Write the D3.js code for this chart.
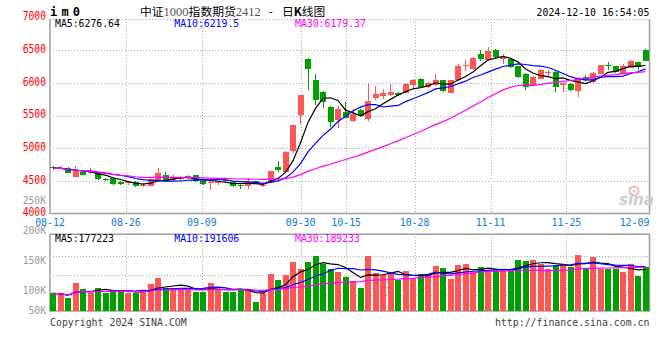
<!DOCTYPE html>
<html><head><meta charset="utf-8">
<script src="https://cdn.jsdelivr.net/npm/d3@7"></script>
<style>body{margin:0;background:#fff}svg{display:block}</style>
</head><body>
<svg id="c" width="660" height="360"></svg>
<script>
// ---------- DATA ----------
const dates = [
 "08-12","08-13","08-14","08-15","08-16","08-19","08-20","08-21","08-22","08-23",
 "08-26","08-27","08-28","08-29","08-30","09-02","09-03","09-04","09-05","09-06",
 "09-09","09-10","09-11","09-12","09-13","09-18","09-19","09-20","09-23","09-24",
 "09-25","09-26","09-27","09-30","10-08","10-09","10-10","10-11","10-14","10-15",
 "10-16","10-17","10-18","10-21","10-22","10-23","10-24","10-25","10-28","10-29",
 "10-30","10-31","11-01","11-04","11-05","11-06","11-07","11-08","11-11","11-12",
 "11-13","11-14","11-15","11-18","11-19","11-20","11-21","11-22","11-25","11-26",
 "11-27","11-28","11-29","12-02","12-03","12-04","12-05","12-06","12-09","12-10"];
const open = [
 4712,4690,4700,4562,4640,4615,4613,4532,4537,4486,
 4462,4486,4425,4425,4520,4588,4511,4525,4537,4588,
 4500,4460,4470,4510,4486,4440,4420,4500,4425,4486,
 4715,4639,4959,5504,6369,6038,5860,5631,5438,5555,
 5412,5590,5443,5773,5804,5809,5845,5845,5962,6064,
 5936,5962,6038,5850,6038,6255,6206,6435,6344,6496,
 6369,6369,6252,6140,5962,6064,6160,6165,5962,5987,
 5875,6089,6013,6140,6272,6252,6140,6232,6318,6496];
const high = [
 4720,4722,4706,4725,4652,4690,4622,4548,4540,4492,
 4500,4490,4470,4560,4700,4635,4585,4575,4585,4592,
 4505,4490,4495,4540,4490,4445,4540,4505,4450,4655,
 4807,4950,5360,5815,6375,6130,5870,5646,5642,5707,
 5606,5600,5987,5946,5911,5987,5860,6000,6064,6079,
 6013,6140,6050,6045,6293,6344,6390,6496,6547,6522,
 6435,6380,6260,6150,6100,6216,6201,6180,6005,5995,
 6089,6115,6160,6275,6318,6262,6283,6354,6325,6522];
const low = [
 4668,4675,4618,4558,4583,4608,4508,4502,4440,4430,
 4440,4410,4410,4420,4515,4495,4490,4505,4530,4480,
 4440,4360,4440,4480,4410,4370,4370,4450,4400,4480,
 4639,4630,4929,5366,5896,5667,5621,5326,5316,5455,
 5405,5480,5412,5743,5758,5800,5800,5840,5921,5930,
 5925,5955,5860,5845,6030,6181,6200,6333,6340,6369,
 6293,6227,6074,5896,5955,6060,6099,5860,5860,5875,
 5784,6028,6005,6130,6191,6150,6130,6225,6201,6330];
const close = [
 4690,4700,4624,4649,4590,4640,4532,4522,4450,4456,
 4478,4420,4440,4527,4623,4500,4537,4540,4570,4500,
 4445,4475,4480,4492,4420,4430,4486,4455,4435,4649,
 4664,4944,5351,5809,6206,5733,5707,5402,5606,5463,
 5519,5488,5718,5824,5845,5860,5814,5987,6038,5936,
 5997,6048,5875,6038,6252,6270,6384,6359,6486,6394,
 6394,6242,6089,5936,6089,6191,6170,5936,5997,5896,
 6079,6038,6150,6267,6262,6160,6252,6340,6250,6333];
const volume = [
 75800,71500,55600,119800,94200,75800,98400,75800,89900,89900,
 75800,75800,82600,115600,142500,97200,97200,99700,94200,82600,
 82600,118600,89900,82600,82600,94200,94200,38500,75800,158400,
 132700,154100,209700,181000,209700,235400,199900,181000,166900,145500,
 128400,96300,235400,161400,154100,161400,132700,171200,140000,158400,
 154100,192600,182800,137000,196900,201200,164800,187000,165600,175500,
 179800,178500,218300,215300,218300,201200,181000,196900,201200,188300,
 239700,184000,231100,179800,179800,179800,168200,201200,151100,187000];
const xTickLabels = ["08-12","08-26","09-09","09-30","10-15","10-28","11-11","11-25","12-09"];
const priceTicks = [4000,4500,5000,5500,6000,6500,7000];
const priceGrid = [4500,5000,5500,6000,6500];
const volTicks = [250000,200000,150000,100000,50000];
const volTickLabels = ["250K","200K","150K","100K","50K"];
const maPeriods = [5,10,30];
const maColors = ["#000000","#0000ff","#ff00ff"];
const maLabelsPrice = ["MA5:6276.64","MA10:6219.5","MA30:6179.37"];
const maLabelsVol = ["MA5:177223","MA10:191606","MA30:189233"];
const titleCode = "i m 0";
const timeStamp = "2024-12-10 16:54:05";

// ---------- LAYOUT ----------
const L = 50, R = 649.5, mainTop = 19, mainBot = 213.5, volTop = 234.3, volBot = 311;
const volGridY = [255.7, 275.3, 295.3];
const UP = "#ff5555", DN = "#00a000";
const mono = "DejaVu Sans Mono, monospace";

const svg = d3.select("#c");
const xb = d3.scaleBand().domain(dates).range([50, 650]);
const xp = d3.scalePoint().domain(dates).range([50, 650]);
const y = d3.scaleLinear().domain([4000, 7000]).range([213.5, 17.5]);
const vy = d3.scaleLinear().domain([0, 328000]).range([volBot, volTop]);
const vLab = d3.scaleLinear().domain([50000, 100000, 250000]).range([311, 290.7, 200.7]);

const cx = d => Math.floor(xb(d) + 3) + 0.5;
const bx = d => Math.round(xb(d));

function ma(arr, n) {
  return arr.map((_, i) => d3.mean(arr.slice(Math.max(0, i - n + 1), i + 1)));
}

// ---------- GRID ----------
const g = svg.append("g").attr("stroke", "#aaa").attr("stroke-dasharray", "1,2").attr("shape-rendering", "crispEdges");
priceGrid.forEach(v => g.append("line").attr("x1", L).attr("x2", R).attr("y1", Math.round(y(v)) + 0.5).attr("y2", Math.round(y(v)) + 0.5));
volGridY.forEach(v => g.append("line").attr("x1", L).attr("x2", R).attr("y1", Math.round(v) + 0.5).attr("y2", Math.round(v) + 0.5));
xTickLabels.slice(1, -1).forEach(d => {
  const xx = Math.round(xp(d)) + 0.5;
  g.append("line").attr("x1", xx).attr("x2", xx).attr("y1", mainTop).attr("y2", mainBot);
  g.append("line").attr("x1", xx).attr("x2", xx).attr("y1", volTop).attr("y2", volBot);
});
// top border dotted
g.append("line").attr("x1", L).attr("x2", R).attr("y1", mainTop + 0.5).attr("y2", mainTop + 0.5);

// frame solid
const f = svg.append("g").attr("stroke", "#a0a0a0").attr("stroke-width", 1.5).attr("fill", "none");
f.append("path").attr("d", `M${L},${mainTop}V${mainBot}H${R}V${mainTop}`);
f.append("path").attr("d", `M${L},${volTop}V${volBot}H${R}V${volTop}Z`);

// ---------- WATERMARK ----------
const wm = svg.append("g");
wm.append("circle").attr("cx", 634).attr("cy", 191).attr("r", 4.5).attr("fill", "none").attr("stroke", "#f3b6b6").attr("stroke-width", 2);
wm.append("circle").attr("cx", 634).attr("cy", 191).attr("r", 1.5).attr("fill", "#f3b6b6");
wm.append("text").attr("x", 619).attr("y", 205).attr("font-family", "DejaVu Sans, sans-serif").attr("font-style", "italic").attr("font-weight", "bold").attr("font-size", 15).attr("fill", "#cccccc").text("sina");

// ---------- CANDLES ----------
const cg = svg.append("g").attr("shape-rendering", "crispEdges");
dates.forEach((d, i) => {
  const col = close[i] >= open[i] ? UP : DN;
  cg.append("line").attr("x1", cx(d)).attr("x2", cx(d)).attr("y1", y(high[i])).attr("y2", y(low[i])).attr("stroke", col);
  const top = y(Math.max(open[i], close[i])), bot = y(Math.min(open[i], close[i]));
  cg.append("rect").attr("x", bx(d)).attr("width", 6).attr("y", top).attr("height", Math.max(1, bot - top)).attr("fill", col);
});

// ---------- VOLUME ----------
dates.forEach((d, i) => {
  const col = close[i] >= open[i] ? UP : DN;
  cg.append("rect").attr("x", bx(d)).attr("width", 6).attr("y", vy(volume[i])).attr("height", volBot - vy(volume[i])).attr("fill", col);
});

// ---------- MA LINES ----------
maPeriods.forEach((n, k) => {
  const m = ma(close, n);
  svg.append("path").datum(m).attr("fill", "none").attr("stroke", maColors[k]).attr("stroke-width", 1.2)
    .attr("d", d3.line().x((v, i) => xb(dates[i]) + 3).y(v => y(v)));
  const mv = ma(volume, n);
  svg.append("path").datum(mv).attr("fill", "none").attr("stroke", maColors[k]).attr("stroke-width", 1.2)
    .attr("d", d3.line().x((v, i) => xb(dates[i]) + 3).y(v => vy(v)));
});

// ---------- AXES TEXT ----------
priceTicks.forEach(v => {
  const s = String(v);
  svg.append("text").attr("x", 46).attr("y", y(v) + 2.8).attr("text-anchor", "end")
    .attr("font-family", mono).attr("font-size", 12.8).attr("fill", "#ff0000")
    .attr("textLength", 5.83 * s.length).attr("lengthAdjust", "spacingAndGlyphs").text(s);
});
volTicks.forEach((v, i) => {
  svg.append("text").attr("x", 46).attr("y", vLab(v) + 3.3).attr("text-anchor", "end")
    .attr("font-family", mono).attr("font-size", 9.7).attr("fill", "#999999").text(volTickLabels[i]);
});
xTickLabels.forEach(d => {
  let xx = xp(d);
  const w = 30;
  if (xx + w / 2 > R) xx = R - w / 2;
  svg.append("text").attr("x", xx).attr("y", 225.7).attr("text-anchor", "middle")
    .attr("font-family", mono).attr("font-size", 9.9).attr("fill", "#0b7dd6").text(d);
});

// ---------- LEGEND / TITLE ----------
const maX = [55, 174.3, 295];
maLabelsPrice.forEach((t, k) => svg.append("text").attr("x", maX[k]).attr("y", 27.3)
  .attr("font-family", mono).attr("font-size", 9.8).attr("fill", maColors[k]).text(t));
maLabelsVol.forEach((t, k) => svg.append("text").attr("x", maX[k]).attr("y", 241.7)
  .attr("font-family", mono).attr("font-size", 9.8).attr("fill", maColors[k]).text(t));

svg.append("text").attr("x", 50).attr("y", 16).attr("font-family", mono).attr("font-weight", "bold")
  .attr("font-size", 12).attr("xml:space", "preserve").attr("textLength", 30).attr("lengthAdjust", "spacing").text(titleCode);

const tt = svg.append("text").attr("x", 140).attr("y", 15.5).attr("font-family", "Noto Sans CJK SC, sans-serif").attr("font-size", 11.8).attr("fill", "#000");
tt.append("tspan").text("中证");
tt.append("tspan").attr("font-family", "Liberation Serif, serif").attr("font-size", 12.5).attr("fill", "#555").text("1000");
tt.append("tspan").text("指数期货");
tt.append("tspan").attr("font-family", "Liberation Serif, serif").attr("font-size", 12.5).attr("fill", "#555").text("2412");
tt.append("tspan").attr("dx", 8).text("-");
tt.append("tspan").attr("dx", 9).text("日");
tt.append("tspan").attr("font-weight", "bold").text("K");
tt.append("tspan").text("线图");

svg.append("text").attr("x", R).attr("y", 16).attr("text-anchor", "end").attr("font-family", mono)
  .attr("font-size", 9.9).attr("fill", "#000").text(timeStamp);

svg.append("text").attr("x", 50).attr("y", 326).attr("font-family", mono).attr("font-size", 9.9).attr("fill", "#444").text("Copyright 2024 SINA.COM");
svg.append("text").attr("x", R).attr("y", 326).attr("text-anchor", "end").attr("font-family", mono).attr("font-size", 9.9).attr("fill", "#444").text("http://finance.sina.com.cn");
</script>
</body></html>
